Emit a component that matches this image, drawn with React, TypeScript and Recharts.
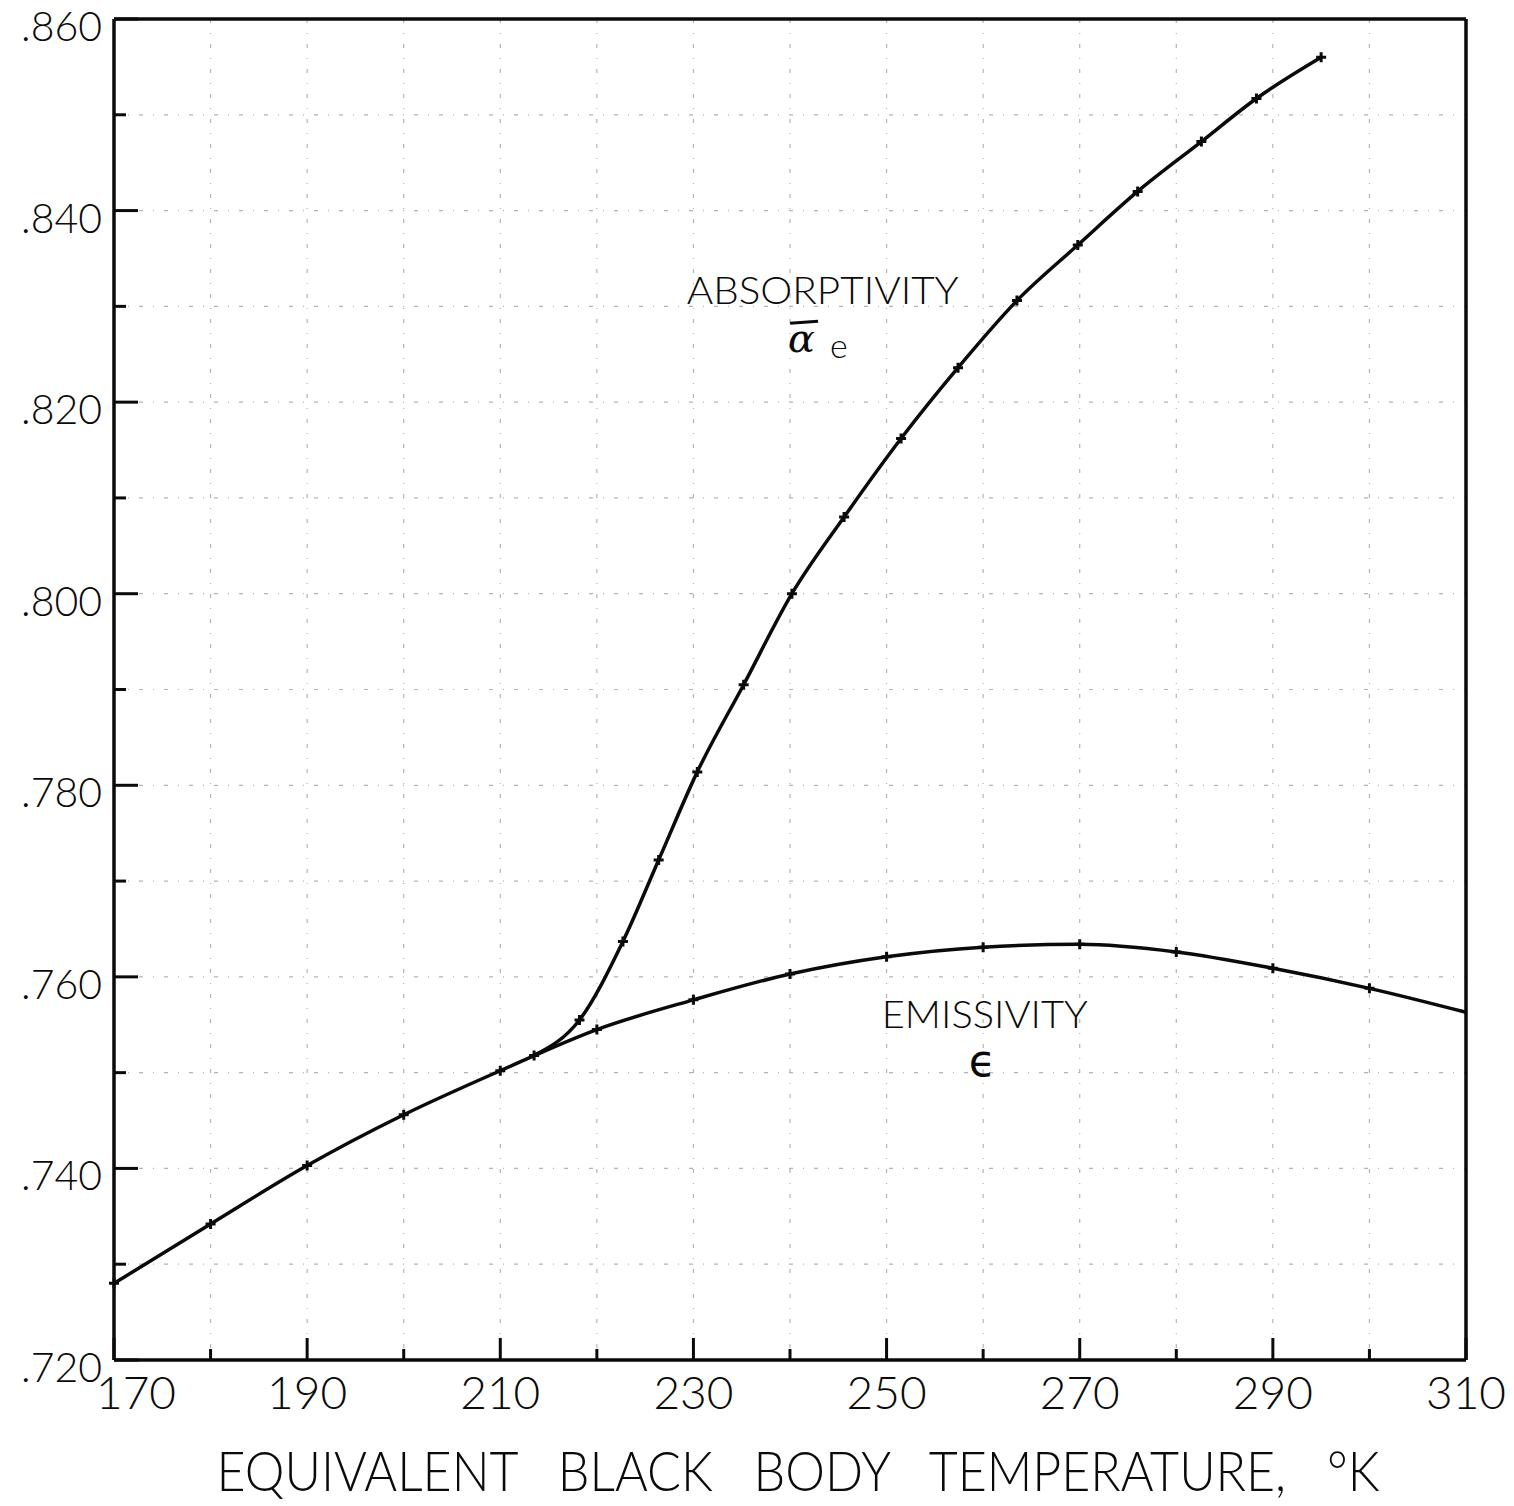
import React from 'react';
import { LineChart, Line, XAxis, YAxis, CartesianGrid, ReferenceDot, Label } from 'recharts';

// axis ticks (K and absorptivity/emissivity units)
const xTicks = [170, 180, 190, 200, 210, 220, 230, 240, 250, 260, 270, 280, 290, 300, 310];
const xLabelTicks = [170, 190, 210, 230, 250, 270, 290, 310];
const yTicks = [0.72, 0.73, 0.74, 0.75, 0.76, 0.77, 0.78, 0.79, 0.8, 0.81, 0.82, 0.83, 0.84, 0.85, 0.86];
const yLabelTicks = [0.72, 0.74, 0.76, 0.78, 0.8, 0.82, 0.84, 0.86];

// emissivity curve
const emissivityT = [170, 180, 190, 200, 210, 220, 230, 240, 250, 260, 270, 280, 290, 300, 310];
const emissivityV = [0.728, 0.7342, 0.7403, 0.7456, 0.7502, 0.7545, 0.7576, 0.7603, 0.7621, 0.7631, 0.7634, 0.7626, 0.7609, 0.7588, 0.7563];

// absorptivity curve, branches off the emissivity curve near 213 K
const absorptivityT = [213.5, 218.2, 222.7, 226.4, 230.4, 235.2, 240.2, 245.6, 251.5, 257.4, 263.5, 269.8, 276.0, 282.6, 288.3, 295.0];
const absorptivityV = [0.7518, 0.7555, 0.7637, 0.7722, 0.7814, 0.7905, 0.8, 0.808, 0.8162, 0.8236, 0.8306, 0.8364, 0.842, 0.8472, 0.8517, 0.856];

const emissivity = emissivityT.map((t, i) => ({ t, v: emissivityV[i] }));
const absorptivity = absorptivityT.map((t, i) => ({ t, v: absorptivityV[i] }));

const FONT = 'Lato, "DejaVu Sans", sans-serif';
const INK = '#0a0a0a';

const isLabelX = (v: number) => xLabelTicks.includes(v);
const isLabelY = (v: number) => yLabelTicks.some((l) => Math.abs(l - v) < 1e-6);

const BottomTick = (props: any) => {
  const { x, y, payload } = props;
  const major = isLabelX(payload.value);
  return (
    <g>
      <line x1={x} x2={x} y1={y} y2={y - (major ? 22 : 11)} stroke={INK} strokeWidth={3} />
      {major && (
        <text x={x + (payload.value === 170 ? 22 : 0)} y={y + 49} textAnchor="middle" fontSize={46} fontFamily={FONT} fontWeight={300} fill={INK}>
          {payload.value}
        </text>
      )}
    </g>
  );
};

const TopTick = (props: any) => {
  const { x, y, payload } = props;
  const major = isLabelX(payload.value);
  return <line x1={x} x2={x} y1={y} y2={y + (major ? 21 : 12)} stroke={INK} strokeWidth={3} />;
};

const LeftTick = (props: any) => {
  const { x, y, payload } = props;
  const major = isLabelY(payload.value);
  return (
    <g>
      <line x1={x} x2={x + (major ? 24 : 12)} y1={y} y2={y} stroke={INK} strokeWidth={3} />
      {major && (
        <text x={x - 12} y={y + 22} textAnchor="end" fontSize={41} fontFamily={FONT} fontWeight={300} fill={INK}>
          {'.' + Math.round(payload.value * 1000)}
        </text>
      )}
    </g>
  );
};

const RightTick = (props: any) => {
  const { x, y, payload } = props;
  const major = isLabelY(payload.value);
  return <line x1={x} x2={x - (major ? 22 : 13)} y1={y} y2={y} stroke={INK} strokeWidth={3} />;
};

const Cross = (props: any) => {
  const { cx, cy, index, skipLast, count } = props;
  if (cx == null || cy == null) return <g key={index} />;
  if (skipLast && index === count - 1) return <g key={index} />;
  return (
    <path
      key={index}
      d={`M${cx - 5},${cy} L${cx + 5},${cy} M${cx},${cy - 5} L${cx},${cy + 5}`}
      stroke={INK}
      strokeWidth={3}
      fill="none"
    />
  );
};

const note = (text: string, size: number, width: number) => (p: any) => {
  const vb = p.viewBox ?? p;
  return (
    <text x={vb.x} y={vb.y} fontSize={size} fontFamily={FONT} fontWeight={300} fill={INK} textLength={width} lengthAdjust="spacingAndGlyphs">
      {text}
    </text>
  );
};

const alphaNote = (p: any) => {
  const vb = p.viewBox ?? p;
  return (
    <g>
      <line x1={vb.x + 2} x2={vb.x + 30} y1={vb.y - 29} y2={vb.y - 31} stroke={INK} strokeWidth={3} />
      <text x={vb.x} y={vb.y} fontSize={40} fontFamily={'"DejaVu Serif", serif'} fontStyle="italic" fill={INK}>
        α
      </text>
      <text x={vb.x + 42} y={vb.y + 6} fontSize={34} fontFamily={FONT} fontWeight={300} fill={INK}>
        e
      </text>
    </g>
  );
};

const epsNote = (p: any) => {
  const vb = p.viewBox ?? p;
  return (
    <text x={vb.x} y={vb.y} fontSize={44} textAnchor="middle" fontFamily={'"DejaVu Sans", sans-serif'} fill={INK}>
      ϵ
    </text>
  );
};

const xTitle = (p: any) => {
  const vb = p.viewBox ?? p;
  return (
    <text
      x={vb.x + vb.width / 2 + 8}
      y={vb.y + 131}
      textAnchor="middle"
      fontSize={56}
      fontFamily={FONT}
      fontWeight={300}
      fill={INK}
      textLength={1163}
      lengthAdjust="spacingAndGlyphs"
      style={{ whiteSpace: 'pre' }}
    >
      {'EQUIVALENT   BLACK   BODY   TEMPERATURE,   °K'}
    </text>
  );
};

export default function App() {
  return (
    <div style={{ position: 'absolute', left: 0, top: 0, width: 1514, height: 1506, background: '#fff' }}>
      <LineChart width={1514} height={1506} margin={{ top: 19, right: 48, left: 0, bottom: 0 }}>
        <CartesianGrid stroke="#b4b4b4" strokeWidth={1.2} strokeDasharray="4 10 1 10" />
        <XAxis
          type="number"
          dataKey="t"
          domain={[170, 310]}
          ticks={xTicks}
          interval={0}
          height={146}
          tickSize={0}
          tickMargin={0}
          tickLine={false}
          tick={BottomTick}
          axisLine={{ stroke: INK, strokeWidth: 3.5 }}
        >
          <Label content={xTitle} />
        </XAxis>
        <XAxis
          xAxisId="top"
          orientation="top"
          mirror
          type="number"
          dataKey="t"
          domain={[170, 310]}
          ticks={xTicks}
          interval={0}
          tickSize={0}
          tickMargin={0}
          tickLine={false}
          tick={TopTick}
          axisLine={{ stroke: INK, strokeWidth: 3.5 }}
        />
        <YAxis
          type="number"
          domain={[0.72, 0.86]}
          ticks={yTicks}
          interval={0}
          width={114}
          tickSize={0}
          tickMargin={0}
          tickLine={false}
          tick={LeftTick}
          axisLine={{ stroke: INK, strokeWidth: 3.5 }}
        />
        <YAxis
          yAxisId="right"
          orientation="right"
          mirror
          type="number"
          domain={[0.72, 0.86]}
          ticks={yTicks}
          interval={0}
          tickSize={0}
          tickMargin={0}
          tickLine={false}
          tick={RightTick}
          axisLine={{ stroke: INK, strokeWidth: 3.5 }}
        />
        <Line
          data={emissivity}
          dataKey="v"
          type="monotone"
          stroke={INK}
          strokeWidth={3.5}
          dot={(p: any) => <Cross {...p} skipLast count={emissivity.length} />}
          isAnimationActive={false}
        />
        <Line
          data={absorptivity}
          dataKey="v"
          type="monotone"
          stroke={INK}
          strokeWidth={3.5}
          dot={(p: any) => <Cross {...p} count={absorptivity.length} />}
          isAnimationActive={false}
        />
        <ReferenceDot x={229.3} y={0.8302} r={0} fill="none" stroke="none" ifOverflow="visible" label={note('ABSORPTIVITY', 37, 272)} />
        <ReferenceDot x={239.8} y={0.8252} r={0} fill="none" stroke="none" ifOverflow="visible" label={alphaNote} />
        <ReferenceDot x={249.5} y={0.7547} r={0} fill="none" stroke="none" ifOverflow="visible" label={note('EMISSIVITY', 37, 206)} />
        <ReferenceDot x={259.9} y={0.7496} r={0} fill="none" stroke="none" ifOverflow="visible" label={epsNote} />
      </LineChart>
    </div>
  );
}
